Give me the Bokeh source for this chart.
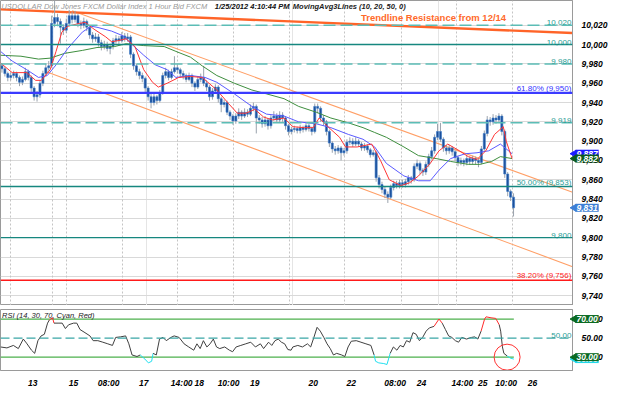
import numpy as np
from bokeh.plotting import figure
from bokeh.models import (Range1d, FixedTicker, NumeralTickFormatter, Span, Label,
                          Grid, ColumnDataSource)
from bokeh.core.properties import value
from bokeh.layouts import column
from bokeh.embed import file_html
from bokeh.resources import INLINE

# ---------------- data (hourly USDOLLAR candles, bar index = hour slot) -------------
first_open = 9978
closes = [
    9975, 9970, 9966, 9968, 9970, 9966, 9961, 9964, 9972, 9966,
    9955, 9946, 9948, 9960, 9970, 9976, 9978, 10022, 10028, 10024,
    10018, 10015, 10022, 10030, 10026, 10030, 10022, 10020, 10024, 10018,
    10010, 10006, 10008, 10002, 9998, 10000, 9996, 9998, 10004, 10006,
    10004, 10009, 10006, 10008, 9990, 9978, 9972, 9968, 9965, 9955,
    9946, 9940, 9946, 9942, 9950, 9968, 9972, 9966, 9972, 9976,
    9974, 9970, 9968, 9964, 9968, 9960, 9956, 9964, 9966, 9960,
    9956, 9946, 9952, 9956, 9944, 9938, 9940, 9930, 9926, 9921,
    9926, 9930, 9926, 9930, 9928, 9934, 9936, 9924, 9922, 9918,
    9922, 9916, 9924, 9926, 9922, 9927, 9924, 9916, 9910, 9912,
    9913, 9911, 9914, 9912, 9916, 9913, 9910, 9936, 9934, 9924,
    9920, 9910, 9898, 9892, 9890, 9893, 9888, 9890, 9899, 9900,
    9897, 9900, 9897, 9893, 9895, 9891, 9886, 9888, 9862, 9855,
    9850, 9845, 9842, 9852, 9856, 9854, 9857, 9855, 9858, 9862,
    9860, 9874, 9877, 9870, 9868, 9876, 9884, 9890, 9904, 9910,
    9902, 9893, 9890, 9893, 9889, 9883, 9878, 9880, 9878, 9882,
    9879, 9882, 9880, 9878, 9892, 9908, 9922, 9920, 9924, 9922,
    9926, 9910, 9866, 9848, 9842, 9831]
highs = [
    9981, 9977, 9972, 9971, 9973, 9972, 9968, 9967, 9976, 9974,
    9968, 9957, 9952, 9963, 9973, 9980, 9983, 10030, 10046, 10032,
    10027, 10021, 10027, 10036, 10034, 10035, 10032, 10025, 10028, 10026,
    10020, 10013, 10012, 10011, 10005, 10004, 10003, 10001, 10007, 10010,
    10009, 10013, 10012, 10012, 10010, 9992, 9980, 9975, 9971, 9967,
    9957, 9949, 9949, 9948, 9953, 9971, 9976, 9974, 9975, 9988,
    9979, 9976, 9973, 9970, 9971, 9970, 9962, 9967, 9970, 9978,
    9963, 9958, 9955, 9959, 9958, 9946, 9943, 9942, 9932, 9928,
    9929, 9934, 9932, 9934, 9933, 9938, 9940, 9938, 9927, 9925,
    9926, 9924, 9927, 9931, 9929, 9931, 9930, 9926, 9918, 9915,
    9916, 9915, 9917, 9916, 9919, 9918, 9915, 9939, 9939, 9936,
    9927, 9922, 9912, 9900, 9895, 9896, 9895, 9893, 9902, 9904,
    9903, 9904, 9902, 9899, 9898, 9897, 9893, 9891, 9890, 9865,
    9858, 9853, 9848, 9855, 9859, 9859, 9860, 9860, 9861, 9865,
    9864, 9877, 9881, 9879, 9872, 9879, 9887, 9894, 9907, 9918,
    9919, 9904, 9896, 9896, 9895, 9891, 9885, 9883, 9882, 9885,
    9884, 9885, 9884, 9882, 9895, 9911, 9926, 9925, 9928, 9927,
    9929, 9928, 9912, 9868, 9850, 9846]
lows = [
    9971, 9967, 9962, 9963, 9965, 9962, 9957, 9958, 9962, 9963,
    9951, 9942, 9941, 9945, 9957, 9967, 9973, 9976, 10018, 10019,
    10001, 10010, 10012, 10019, 10022, 10023, 10018, 10016, 10017, 10014,
    10006, 10002, 10003, 9998, 9994, 9995, 9993, 9990, 9995, 10001,
    10000, 10002, 10003, 10003, 9986, 9974, 9968, 9964, 9961, 9951,
    9942, 9934, 9937, 9938, 9940, 9948, 9965, 9963, 9964, 9970,
    9970, 9966, 9964, 9961, 9962, 9956, 9952, 9954, 9961, 9957,
    9952, 9942, 9943, 9949, 9940, 9930, 9935, 9927, 9922, 9917,
    9918, 9923, 9922, 9924, 9925, 9926, 9931, 9908, 9918, 9914,
    9915, 9912, 9913, 9921, 9919, 9919, 9920, 9912, 9906, 9907,
    9909, 9908, 9908, 9909, 9910, 9910, 9906, 9908, 9929, 9920,
    9916, 9906, 9894, 9888, 9886, 9887, 9880, 9885, 9887, 9896,
    9894, 9895, 9894, 9890, 9890, 9888, 9883, 9884, 9858, 9851,
    9846, 9841, 9836, 9840, 9849, 9851, 9851, 9852, 9852, 9855,
    9856, 9858, 9871, 9866, 9864, 9865, 9873, 9881, 9887, 9901,
    9899, 9889, 9886, 9887, 9885, 9879, 9874, 9875, 9874, 9875,
    9876, 9876, 9876, 9873, 9876, 9890, 9905, 9916, 9917, 9918,
    9919, 9906, 9862, 9843, 9838, 9822]

# moving averages (bar index, value)
ma10_t = [0, 4, 9, 12, 14, 17, 19, 21, 23, 27, 29, 32, 36, 38, 40, 43, 46, 49, 52, 54,
          57, 61, 65, 69, 74, 78, 81, 84, 87, 90, 93, 97, 100, 104, 107, 109, 112, 116, 118, 122,
          127, 130, 133, 137, 140, 143, 147, 150, 153, 157, 160, 163, 166, 169, 172, 173, 175]
ma10_v = [9981, 9971, 9971, 9963, 9963, 9974, 9993, 10013, 10019, 10022,
          10023, 10016, 10008, 10003, 10004, 10006, 9998, 9974, 9961, 9956,
          9960, 9966, 9967, 9966, 9953, 9939, 9929, 9929, 9933, 9925,
          9922, 9924, 9915, 9914, 9914, 9924, 9915, 9904, 9894, 9894,
          9897, 9880, 9860, 9854, 9857, 9864, 9877, 9890, 9897, 9890,
          9884, 9881, 9890, 9907, 9915, 9900, 9882]
ma20_t = [0, 4, 9, 13, 16, 19, 23, 28, 31, 33, 38, 42, 44, 49, 53, 57, 60, 65, 70, 74,
          80, 86, 91, 97, 102, 108, 113, 119, 124, 128, 132, 138, 143, 147, 150, 154, 159, 163, 167, 171,
          175]
ma20_v = [9993, 9983, 9974, 9966, 9968, 9979, 9996, 10013, 10019, 10018,
          10014, 10009, 10003, 9989, 9979, 9974, 9966, 9968, 9966, 9961,
          9949, 9936, 9928, 9926, 9920, 9918, 9914, 9907, 9902, 9894,
          9877, 9864, 9859, 9859, 9870, 9882, 9887, 9888, 9890, 9897,
          9887]
ma50_t = [0, 7, 13, 17, 22, 28, 33, 39, 43, 49, 56, 60, 65, 69, 74, 80, 86, 91, 97, 102,
          108, 113, 119, 124, 128, 132, 138, 143, 149, 154, 160, 164, 168, 171, 175]
ma50_v = [9989, 9988, 9985, 9986, 9991, 9994, 9997, 9998, 10001, 9999,
          9998, 9993, 9987, 9978, 9968, 9960, 9953, 9949, 9944, 9936,
          9930, 9924, 9919, 9914, 9909, 9904, 9894, 9885, 9882, 9879,
          9876, 9876, 9879, 9884, 9882]

# RSI(14) (bar index, value)
rsi_t = [0, 2.2, 4.4, 6.1, 7.8, 8.9, 10.6, 11.7, 12.8, 13.9, 15, 16.1, 16.7, 17.8, 18.3, 20,
         21.1, 22.2, 23.3, 25, 26.1, 27.2, 28.9, 30.6, 31.7, 33.3, 35, 36.7, 38.3, 39.4, 41.1,
         42.8, 43.9, 45, 46.7, 47.8, 49.4, 50.6, 51.7, 52.2, 53.3, 54.4, 55.6, 56.7, 58.3, 59.4,
         61.1, 62.8, 64.4, 66.1, 67.2, 68.3, 69.4, 70.6, 71.7, 72.8, 73.9, 75, 76.7, 78.3, 79.4,
         80.6, 82.2, 83.9, 85.6, 87.2, 88.9, 90, 91.7, 92.8, 93.9, 95, 96.1, 97.2, 98.3, 99.4,
         100, 101.7, 103.3, 105, 106.1, 107.2, 108.3, 109.4, 110.6, 111.7, 112.8, 113.9, 115,
         116.7, 117.8, 118.9, 120, 121.7, 123.3, 125, 126.7, 127.8, 128.3, 129.4, 131.1, 132.2,
         133.3, 134.4, 135.6, 136.7, 137.8, 138.9, 140, 141.1, 142.2, 143.3, 144.4, 145.6, 146.7,
         148.3, 150, 151.1, 152.2, 153.3, 154.4, 155.6, 156.7, 157.8, 159.4, 161.1, 162.2, 163.3,
         164.4, 165.6, 166.1, 167.8, 169.4, 170.6, 171.1, 171.7, 172.2, 173.3, 174.4, 175.6]
rsi_v = [40.7, 39.7, 42.3, 39, 49, 44.7, 37.3, 34, 47.3, 52.3, 54, 65.7, 69, 71.3, 65.7, 65.7,
         65.7, 60, 64, 65.7, 65.7, 59, 55.7, 52.3, 47.3, 47.3, 45.7, 44, 42.3, 50.7, 51.3,
         52.3, 44, 32.3, 30.7, 32.3, 28, 24, 25.7, 34, 32.3, 49, 50.7, 47.3, 50.7, 52.3,
         50.7, 44, 40.7, 37.3, 44, 39, 47.3, 40.7, 44, 49, 40.7, 39, 40.7, 37.3, 35.7,
         40.7, 42.3, 44, 45.7, 40.7, 44, 39, 45.7, 42.3, 47.3, 49, 45.7, 44, 38, 37.3,
         40.7, 42.3, 40.7, 44, 40.7, 50.7, 61.3, 57.3, 50.7, 44, 39, 32.3, 34,
         32.3, 30.7, 40.7, 46.7, 47.3, 45.7, 44, 42.3, 32.3, 25.7, 24, 23.3, 22.3,
         34, 40.7, 37.3, 42.3, 40.7, 47.3, 45.7, 55.7, 54, 47.3, 50.7, 57.3, 60.7,
         62.3, 70, 65.7, 59, 52.3, 50.7, 47.3, 45.7, 50.7, 49, 50.7, 51.3, 49,
         57.3, 70, 72.3, 71.3, 70.7, 64, 57.3, 40.7, 34, 31.3, 29, 28]
rsi_upper, rsi_mid, rsi_lower = 70, 50, 30

# horizontal levels (price, text)
level_values = [10020, 10000, 9980, 9950, 9919, 9853, 9800, 9756]
level_texts = ["10,020", "10,000", "9,980", "61.80% (9,950)", "9,919",
               "50.00% (9,853)", "9,800", "38.20% (9,756)"]

# trendlines: (bar index, price) endpoints
resist_t, resist_v = [0, 195.7], [10036.5, 10012.0]
chan_up_t, chan_up_v = [24.5, 195.7], [10035.0, 9847.0]
chan_lo_t, chan_lo_v = [15.7, 195.7], [9972.0, 9770.0]
resist_text = "Trendline Resistance from 12/14"

# axis ticks
price_ticks = list(range(9740, 10021, 20))
day_grid = [3.3, 17.7, 22.7, 41.7, 60.7, 79.7, 99, 117.7, 137.3, 156, 175]
time_ticks = [11, 25, 37, 49, 62, 68, 78, 87, 107, 120, 135, 144, 158, 165, 173, 182]
time_labels = ["13", "15", "08:00", "17", "14:00", "18", "10:00", "19", "20", "22",
               "08:00", "24", "14:00", "25", "10:00", "26"]

# last-value tags: (value, colour)
price_tags = [(9887, "#1a1aff"), (9882, "#0b5a1e"), (9831, "#3d7fd6")]
rsi_tags = [(28, "#22d8ea"), (70, "#0b6a22"), (30, "#0b6a22")]

# ---------------- drawing -------------------------------------------------------------
FONT = "Liberation Sans"
X_END = 195.67
FRAME_W = 572
xr = Range1d(0, X_END)


def add_tags(fig, tags, fmt):
    """value tags just right of the frame, drawn at overlay level (not clipped)."""
    for v, bg in tags:
        fig.scatter([X_END + 0.55], [v], marker="triangle", angle=np.pi / 2, size=7,
                    fill_color=bg, line_color=bg, level="overlay")
        fig.text([X_END + 1.0], [v], text=[fmt(v)], text_baseline="middle", text_align="left",
                 text_font=value(FONT), text_font_size="8.5px", text_font_style="bold italic",
                 text_color="white", background_fill_color=bg, padding=1, level="overlay")


p = figure(frame_width=FRAME_W, frame_height=305, x_range=xr, y_range=Range1d(9729.8, 10045.7),
           output_backend="svg", toolbar_location=None, x_axis_location=None,
           y_axis_location="right", min_border_left=0, min_border_right=32,
           min_border_top=0, min_border_bottom=0, outline_line_color="#9a9a9a")
p.yaxis.ticker = FixedTicker(ticks=price_ticks)
p.yaxis.formatter = NumeralTickFormatter(format="0,0")
p.yaxis.major_label_text_font = FONT
p.yaxis.major_label_text_font_size = "8.5px"
p.yaxis.major_label_text_font_style = "bold italic"
p.yaxis.major_label_text_color = "#000000"
p.yaxis.major_tick_line_color = None
p.yaxis.minor_tick_line_color = None
p.yaxis.axis_line_color = "#9a9a9a"
p.yaxis.major_label_standoff = 3
p.ygrid.ticker = FixedTicker(ticks=price_ticks)
p.ygrid.grid_line_color = "#d9d9d9"
p.add_layout(Grid(dimension=0, ticker=FixedTicker(ticks=day_grid),
                  grid_line_color="#c4c4c4", grid_line_dash="2 2"))

# horizontal level lines
lvl_styles = [("#5cbdb6", "12 5", 1.5), ("#16877f", "solid", 1.5), ("#5cbdb6", "12 5", 1.5),
              ("#3b3bff", "solid", 2.2), ("#5cbdb6", "12 5", 1.5), ("#16877f", "solid", 1.5),
              ("#16877f", "solid", 1.3), ("#ff1a1a", "solid", 1.5)]
lvl_text_cols = ["#2a9d95", "#2a9d95", "#2a9d95", "#3333ff", "#2a9d95", "#2a9d95",
                 "#2a9d95", "#ff1a1a"]
for v, txt, (col, dash, w), tc in zip(level_values, level_texts, lvl_styles, lvl_text_cols):
    p.add_layout(Span(location=v, dimension="width", line_color=col, line_dash=dash,
                      line_width=w))
    p.add_layout(Label(x=X_END - 0.4, y=v, text=txt, text_align="right",
                       text_baseline="bottom", y_offset=0, text_font=FONT,
                       text_font_size="8px", text_color=tc))

# trendlines
p.line(chan_up_t, chan_up_v, line_color="#ff9f66", line_width=1.1)
p.line(chan_lo_t, chan_lo_v, line_color="#ff9f66", line_width=1.1)
p.line(resist_t, resist_v, line_color="#ff6428", line_width=2.4)

# candles
o = np.array([first_open] + closes[:-1], dtype=float)
c = np.array(closes, dtype=float)
xs = np.arange(len(closes)) + 0.5
src = ColumnDataSource(dict(x=xs, h=highs, l=lows, top=np.maximum(o, c),
                            bot=np.minimum(o, c)))
p.segment("x", "h", "x", "l", source=src, line_color="#9aa3ad", line_width=1)
p.vbar("x", 0.72, "top", "bot", source=src, fill_color="#1c4f9a", line_color="#3d7cc9",
       line_width=0.6)

# moving averages
p.line(ma50_t, ma50_v, line_color="#3e8e3e", line_width=1)
p.line(ma20_t, ma20_v, line_color="#5a5aff", line_width=1)
p.line(ma10_t, ma10_v, line_color="#ff3535", line_width=1)

# annotation text
p.add_layout(Label(x=123.3, y=10027.8, text=resist_text, text_baseline="middle",
                   text_font=FONT, text_font_size="9.5px", text_font_style="bold",
                   text_color="#ff6a2a"))
p.add_layout(Label(x=0.3, y=10040, text="USDOLLAR  Dow Jones FXCM Dollar Index  1 Hour  Bid  FXCM",
                   text_baseline="middle", text_font=FONT, text_font_size="7.5px",
                   text_font_style="italic", text_color="#9a9a9a"))
p.add_layout(Label(x=73.3, y=10040, text="1/25/2012  4:10:44 PM", text_baseline="middle",
                   text_font=FONT, text_font_size="7.5px", text_font_style="bold italic",
                   text_color="#111111"))
p.add_layout(Label(x=100, y=10040, text="MovingAvg3Lines  (10, 20, 50, 0)",
                   text_baseline="middle", text_font=FONT, text_font_size="7.5px",
                   text_font_style="bold italic", text_color="#222222"))

add_tags(p, price_tags, lambda v: f"{v:,}")

# ---------------- RSI panel -------------------------------------------------------------
p2 = figure(frame_width=FRAME_W, frame_height=61, x_range=xr, y_range=Range1d(16, 80),
            output_backend="svg", toolbar_location=None, y_axis_location="right",
            min_border_left=0, min_border_right=32, min_border_top=4, min_border_bottom=0,
            outline_line_color="#9a9a9a")
p2.xgrid.visible = False
p2.ygrid.visible = False
p2.yaxis.ticker = FixedTicker(ticks=[rsi_lower, rsi_mid, rsi_upper])
p2.yaxis.formatter = NumeralTickFormatter(format="0.00")
for ax in (p2.yaxis, p2.xaxis):
    ax.major_label_text_font = FONT
    ax.major_label_text_font_size = "8.5px"
    ax.major_label_text_font_style = "bold italic"
    ax.major_label_text_color = "#000000"
    ax.major_tick_line_color = None
    ax.minor_tick_line_color = None
    ax.axis_line_color = "#9a9a9a"
p2.yaxis.major_label_standoff = 3
p2.xaxis.major_label_standoff = 1
p2.xaxis.ticker = FixedTicker(ticks=time_ticks)
p2.xaxis.major_label_overrides = dict(zip(time_ticks, time_labels))

p2.add_layout(Span(location=rsi_mid, dimension="width", line_color="#3aa6a6",
                   line_dash="9 4", line_width=1.3))
p2.segment([0, 0], [rsi_upper, rsi_lower], [rsi_t[-1]] * 2, [rsi_upper, rsi_lower],
           line_color="#4cb04c", line_width=1.3)

rv = np.array(rsi_v)
cols = []
for a, b in zip(rv[:-1], rv[1:]):
    if max(a, b) >= 69.5:
        cols.append("#ff2a2a")
    elif (a + b) / 2 <= 30.5:
        cols.append("#22e0f0")
    else:
        cols.append("#404040")
p2.segment(rsi_t[:-1], rsi_v[:-1], rsi_t[1:], rsi_v[1:], line_color=cols, line_width=1)

p2.scatter([rsi_t[-3]], [rsi_lower], size=26, marker="circle", fill_color=None,
           line_color="#ff3333", line_width=1)

p2.add_layout(Label(x=0.5, y=78.5, text="RSI (14, 30, 70, Cyan, Red)", text_baseline="top",
                    text_font=FONT, text_font_size="7.5px", text_font_style="italic",
                    text_color="#222222"))
p2.add_layout(Label(x=X_END - 0.4, y=rsi_mid, text="50.00", text_align="right",
                    text_baseline="bottom", text_font=FONT, text_font_size="8px",
                    text_color="#2a9d95"))
add_tags(p2, rsi_tags, lambda v: f"{(30 if v < 30 else v):.2f}")

layout = column(p, p2, spacing=0)
open("out.html", "w").write(file_html(layout, INLINE))
